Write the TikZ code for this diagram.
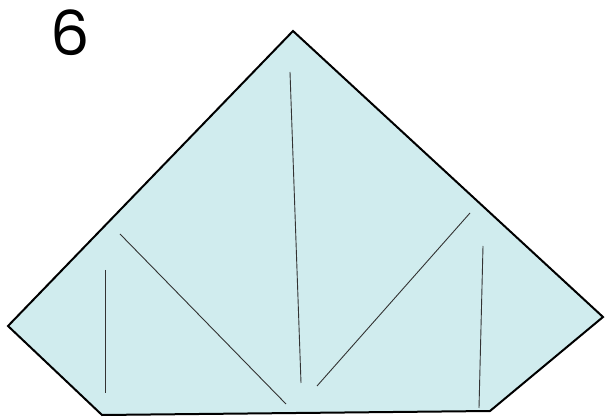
\documentclass[tikz,border=0pt]{standalone}
\usepackage{fontspec}
\newfontfamily\digitfont{Poppins}
\definecolor{paper}{RGB}{208,236,238}
\begin{document}
\begin{tikzpicture}[x=1pt,y=-1pt,
  edge/.style={draw=black,line width=2pt,line join=miter},
  crease/.style={draw=black!80,line width=0.9pt}]
\useasboundingbox (0,0) rectangle (605,419);
\coordinate (T) at (293,31);
\coordinate (L) at (8,326);
\coordinate (BL) at (102,415);
\coordinate (BR) at (490,411);
\coordinate (R) at (603,317);
\path[edge,fill=paper] (T) -- (R) -- (BR) -- (BL) -- (L) -- cycle;
\coordinate (a1) at (105,270); \coordinate (a2) at (105,393);
\coordinate (b1) at (120,234); \coordinate (b2) at (286,404);
\coordinate (c1) at (290,72);  \coordinate (c2) at (301,383);
\coordinate (d1) at (470,213); \coordinate (d2) at (317,386);
\coordinate (e1) at (483,246); \coordinate (e2) at (479,408);
\draw[crease] (a1) -- (a2);
\draw[crease] (b1) -- (b2);
\draw[crease] (c1) -- (c2);
\draw[crease] (d1) -- (d2);
\draw[crease] (e1) -- (e2);
\node[font=\digitfont\fontsize{62}{62}\selectfont,inner sep=0pt] (num) at (70,33) {6};
\end{tikzpicture}
\end{document}
